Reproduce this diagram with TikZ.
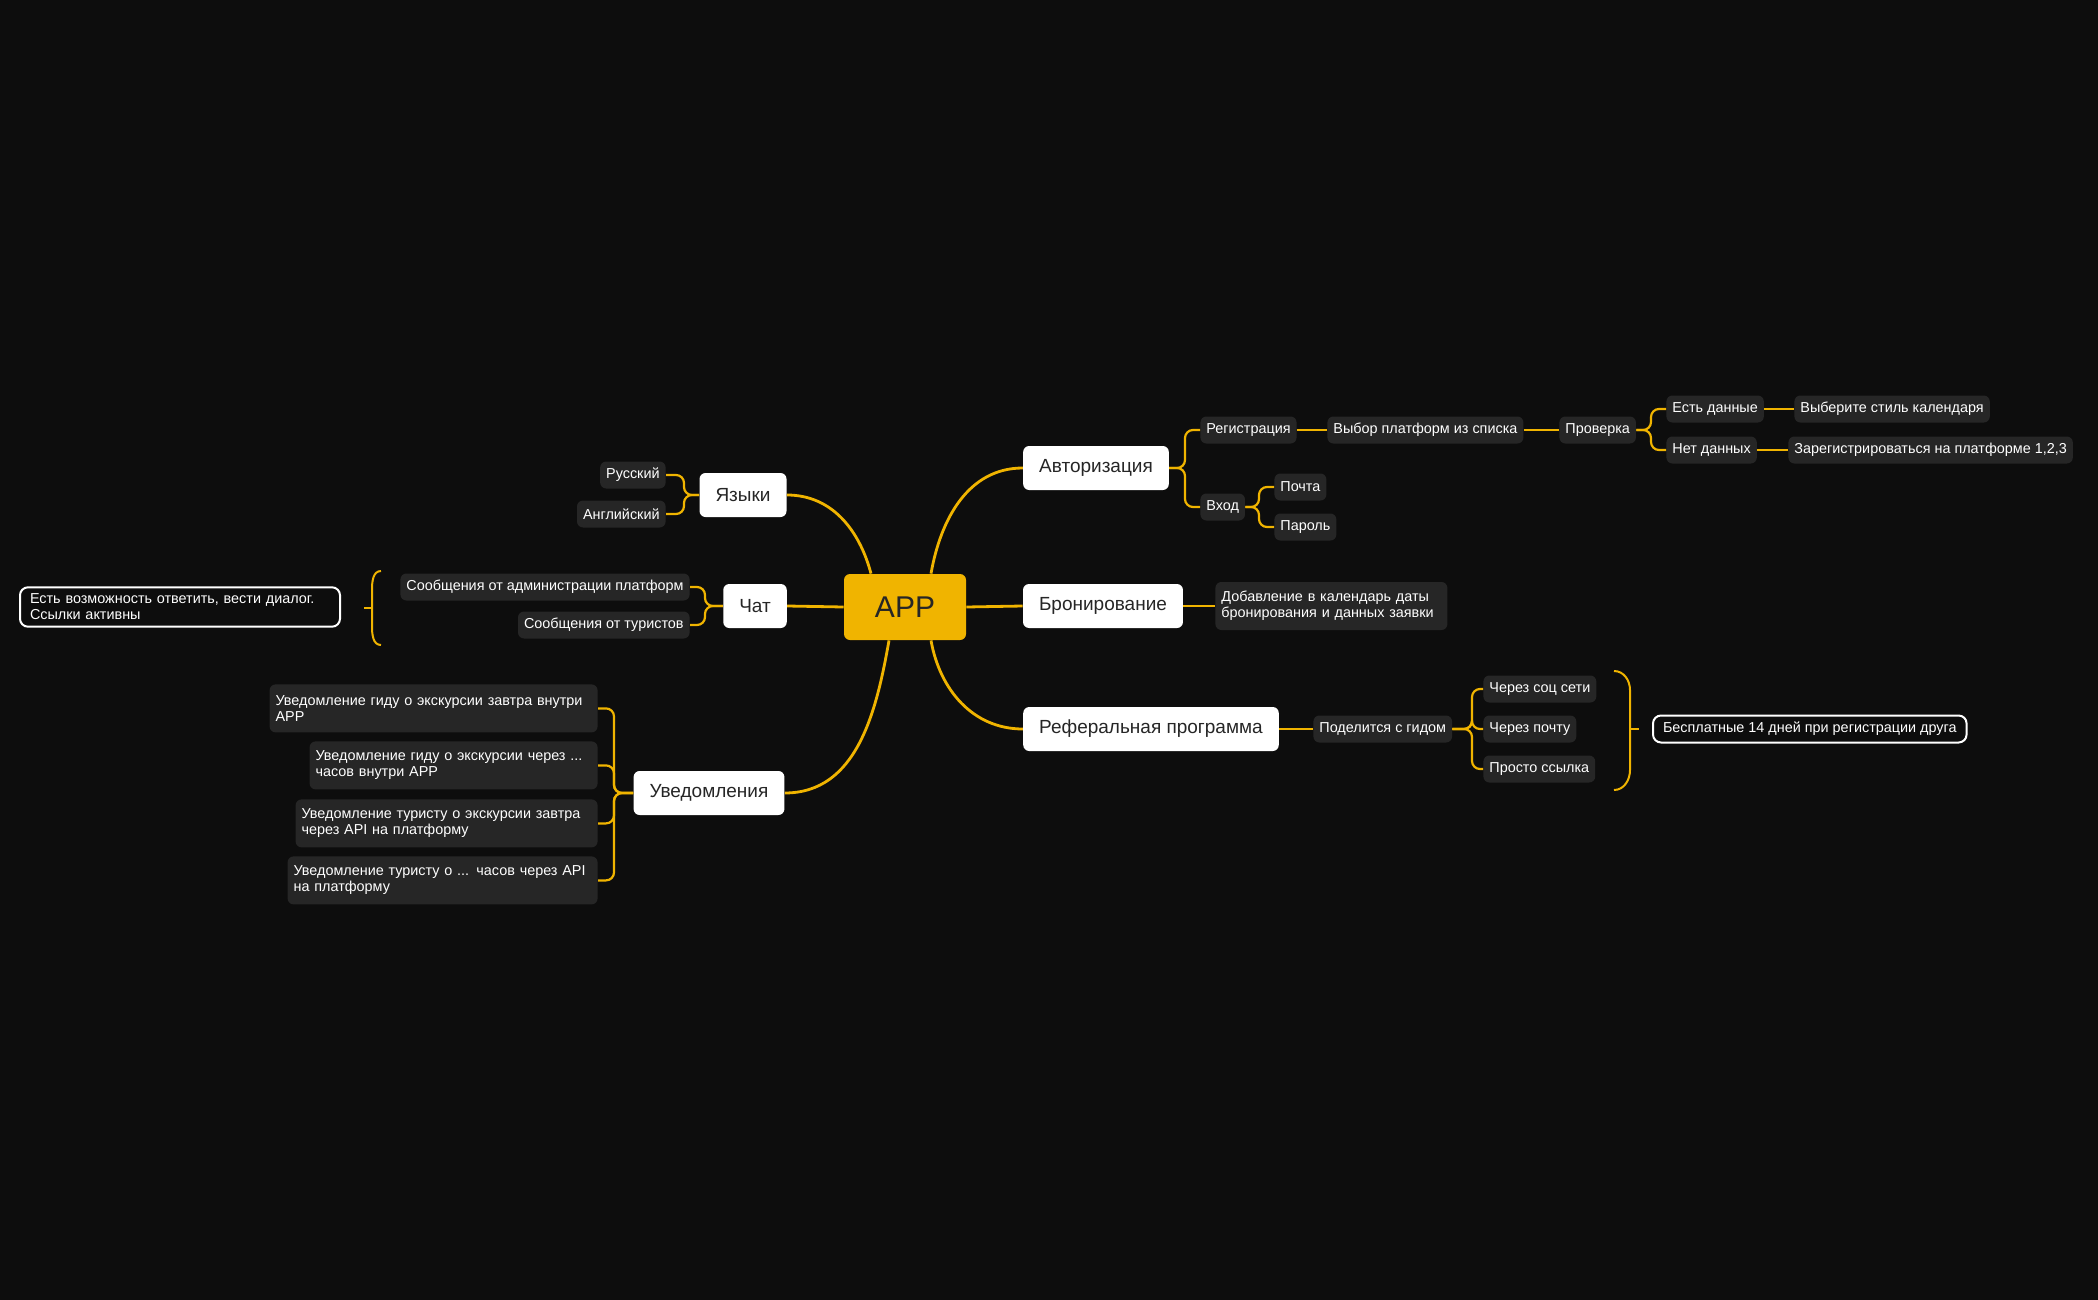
\documentclass[tikz,border=0pt]{standalone}
\usepackage{fontspec}
\setmainfont{Liberation Sans}
\definecolor{bg}{HTML}{0D0D0D}
\definecolor{gold}{HTML}{F0B400}
\definecolor{chip}{HTML}{262626}
\tikzset{
  mainnode/.style={fill=white,rounded corners=3pt,minimum height=22pt,inner xsep=8pt,font=\fontsize{9.5}{11}\selectfont,text=black!85},
  subnode/.style={fill=chip,rounded corners=3pt,minimum height=13.5pt,inner xsep=3pt,inner ysep=2pt,font=\fontsize{7.2}{8}\selectfont,text=white},
  notebox/.style={fill=bg,draw=white,line width=1pt,rounded corners=4pt,inner xsep=5pt,font=\fontsize{7.2}{8}\selectfont,text=white},
  link/.style={draw=gold,line width=1.1pt,rounded corners=4pt},
  bigline/.style={draw=gold,line width=1.4pt}
}
\begin{document}
\begin{tikzpicture}[x=0.5pt,y=-0.5pt]
\fill[bg] (0,0) rectangle (2098,1300);
\useasboundingbox (0,0) rectangle (2098,1300);
% centre
\node [fill=gold,rounded corners=3pt,minimum width=61pt,minimum height=33pt,font=\fontsize{15}{17}\selectfont,text=black!85] (app) at (905,607) {APP};
% main branches
\node [mainnode] (lang) at (743,495) {Языки};
\node [mainnode] (chat) at (755,606) {Чат};
\node [mainnode] (notif) at (709,793) {Уведомления};
\node [mainnode] (auth) at (1096,468) {Авторизация};
\node [mainnode] (book) at (1103,606) {Бронирование};
\node [mainnode] (ref) at (1151,729) {Реферальная программа};
\draw [bigline] ([xshift=-17pt]app.north) to[out=105,in=0] (lang.east);
\draw [bigline] (app.west) -- (chat.east);
\draw [bigline] ([xshift=-8pt]app.south) to[out=-100,in=0] (notif.east);
\draw [bigline] ([xshift=13pt]app.north) to[out=80,in=180] (auth.west);
\draw [bigline] (app.east) -- (book.west);
\draw [bigline] ([xshift=13pt]app.south) to[out=-80,in=180] (ref.west);
% languages
\node [subnode,anchor=east] (ru) at (666,475) {Русский};
\node [subnode,anchor=east] (en) at (666,514) {Английский};
\foreach \c in {ru,en}
  \draw [link] (lang.west) -- (684,495) |- (\c.east);
% chat
\node [subnode,anchor=east] (adm) at (690,587) {Сообщения от администрации платформ};
\node [subnode,anchor=east] (tour) at (690,625) {Сообщения от туристов};
\foreach \c in {adm,tour}
  \draw [link] (chat.west) -- (705,606) |- (\c.east);
\draw [draw=gold,line width=1pt] (381,571) to[out=180,in=90] (372,590) -- (372,626) to[out=-90,in=180] (381,645);
\draw [draw=gold,line width=1pt] (372,608) -- (364,608);
\node [notebox,text width=150pt,align=left,anchor=west] (reply) at (19,607) {Есть возможность ответить, вести диалог.\\Ссылки активны};
% notifications
\node [subnode,anchor=north east,text width=158pt,align=left,minimum height=24pt] (n1) at (598,684) {Уведомление гиду о экскурсии завтра внутри\\APP};
\node [subnode,anchor=north east,text width=138pt,align=left,minimum height=24pt] (n2) at (598,741) {Уведомление гиду о экскурсии через ...\\часов внутри APP};
\node [subnode,anchor=north east,text width=145pt,align=left,minimum height=24pt] (n3) at (598,799) {Уведомление туристу о экскурсии завтра\\через API на платформу};
\node [subnode,anchor=north east,text width=149pt,align=left,minimum height=24pt] (n4) at (598,856) {Уведомление туристу о ... часов через API\\на платформу};
\foreach \c in {n1,n2,n3,n4}
  \draw [link] (notif.west) -- (614,793) |- (\c.east);
% authorisation
\node [subnode,anchor=west] (reg) at (1200,430) {Регистрация};
\node [subnode,anchor=west] (pick) at (1327,430) {Выбор платформ из списка};
\node [subnode,anchor=west] (check) at (1559,430) {Проверка};
\node [subnode,anchor=west] (yes) at (1666,409) {Есть данные};
\node [subnode,anchor=west] (style) at (1794,409) {Выберите стиль календаря};
\node [subnode,anchor=west] (no) at (1666,450) {Нет данных};
\node [subnode,anchor=west] (signup) at (1788,450) {Зарегистрироваться на платформе 1,2,3};
\node [subnode,anchor=west] (login) at (1200,507) {Вход};
\node [subnode,anchor=west] (mail) at (1274,487) {Почта};
\node [subnode,anchor=west] (pass) at (1274,527) {Пароль};
\foreach \c in {reg,login}
  \draw [link] (auth.east) -- (1185,468) |- (\c.west);
\draw [link] (reg.east) -- (pick.west);
\draw [link] (pick.east) -- (check.west);
\foreach \c in {yes,no}
  \draw [link] (check.east) -- (1651,430) |- (\c.west);
\draw [link] (yes.east) -- (style.west);
\draw [link] (no.east) -- (signup.west);
\foreach \c in {mail,pass}
  \draw [link] (login.east) -- (1259,507) |- (\c.west);
% booking
\node [subnode,anchor=west,text width=110pt,align=left,minimum height=24pt] (cal) at (1215,606) {Добавление в календарь даты\\бронирования и данных заявки};
\draw [link] (book.east) -- (cal.west);
% referral
\node [subnode,anchor=west] (share) at (1313,729) {Поделится с гидом};
\node [subnode,anchor=west] (soc) at (1483,689) {Через соц сети};
\node [subnode,anchor=west] (post) at (1483,729) {Через почту};
\node [subnode,anchor=west] (link) at (1483,769) {Просто ссылка};
\draw [link] (ref.east) -- (share.west);
\foreach \c in {soc,post,link}
  \draw [link] (share.east) -- (1472,729) |- (\c.west);
\draw [draw=gold,line width=1pt] (1614,671) to[out=0,in=90] (1630,690) -- (1630,770) to[out=-90,in=0] (1614,790);
\draw [draw=gold,line width=1pt] (1630,729) -- (1639,729);
\node [notebox,anchor=west] (free) at (1652,729) {Бесплатные 14 дней при регистрации друга};
\end{tikzpicture}
\end{document}
